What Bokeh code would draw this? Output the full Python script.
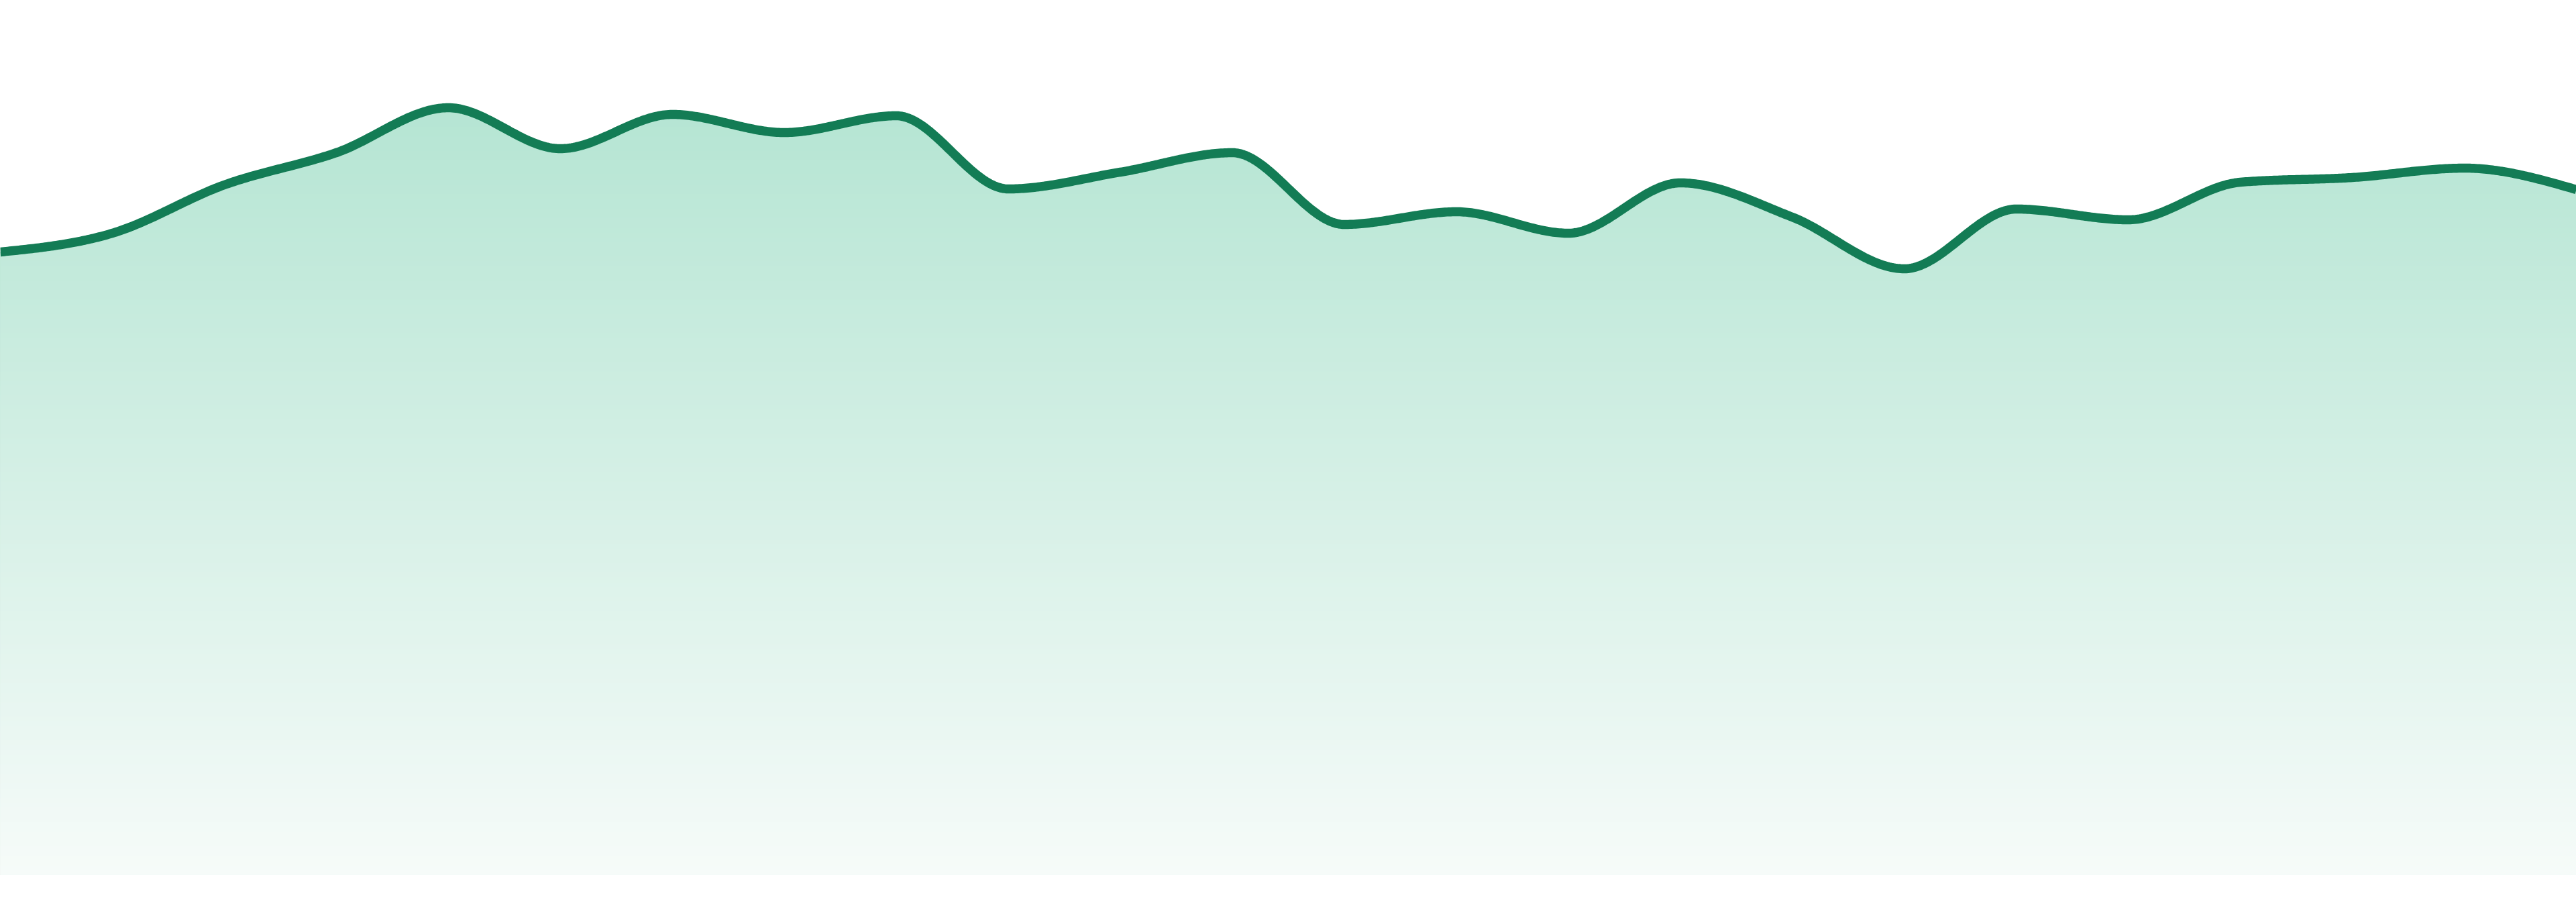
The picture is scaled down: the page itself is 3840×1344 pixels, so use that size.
import numpy as np
from bokeh.plotting import figure
from bokeh.models import Range1d
from bokeh.embed import file_html
from bokeh.resources import INLINE

# ---- data -------------------------------------------------------------
index = list(range(24))
values = [92.8, 95.6, 102.8, 107.6, 114.3, 108.2, 113.3, 110.6, 113.1, 102.2,
          104.7, 107.6, 96.9, 98.8, 95.6, 103.1, 98.0, 90.3, 99.2, 97.6,
          103.2, 103.9, 105.3, 102.1]

# ---- style ------------------------------------------------------------
LINE_COLOR = "#137c55"
FILL_TOP = (181, 229, 211)
FILL_BOTTOM = (246, 251, 249)
W, H = 3840, 1344
Y_TOP = 130.3
Y_BOTTOM = Y_TOP - H / 10.0
N_BANDS = 160


def monotone_curve(xs, ys, n=60):
    """Render path of a monotone-x cubic (as d3.curveMonotoneX)."""
    xs = np.asarray(xs, float)
    ys = np.asarray(ys, float)
    m = len(xs)
    h = np.diff(xs)
    s = np.diff(ys) / h
    t = np.zeros(m)
    for i in range(1, m - 1):
        h0, h1 = h[i - 1], h[i]
        s0, s1 = s[i - 1], s[i]
        p = (s0 * h1 + s1 * h0) / (h0 + h1)
        t[i] = (np.sign(s0) + np.sign(s1)) * min(abs(s0), abs(s1), 0.5 * abs(p))
    t[0] = (3 * s[0] - t[1]) / 2
    t[-1] = (3 * s[-1] - t[-2]) / 2
    px, py = [], []
    u = np.linspace(0, 1, n, endpoint=False)
    for i in range(m - 1):
        dx = h[i] / 3.0
        P0 = (xs[i], ys[i])
        P1 = (xs[i] + dx, ys[i] + dx * t[i])
        P2 = (xs[i + 1] - dx, ys[i + 1] - dx * t[i + 1])
        P3 = (xs[i + 1], ys[i + 1])
        b0 = (1 - u) ** 3
        b1 = 3 * (1 - u) ** 2 * u
        b2 = 3 * (1 - u) * u ** 2
        b3 = u ** 3
        px.extend(b0 * P0[0] + b1 * P1[0] + b2 * P2[0] + b3 * P3[0])
        py.extend(b0 * P0[1] + b1 * P1[1] + b2 * P2[1] + b3 * P3[1])
    px.append(xs[-1])
    py.append(ys[-1])
    return np.array(px), np.array(py)


def grad_color(v, vmax):
    f = min(max(v / vmax, 0.0), 1.0)
    c = [round(FILL_BOTTOM[k] + (FILL_TOP[k] - FILL_BOTTOM[k]) * f) for k in range(3)]
    return "#%02x%02x%02x" % tuple(c)


cx, cy = monotone_curve(index, values)

p = figure(width=W, height=H, output_backend="svg", toolbar_location=None,
           x_range=Range1d(index[0], index[-1]), y_range=Range1d(Y_BOTTOM, Y_TOP),
           x_axis_location=None, y_axis_location=None,
           min_border=0, outline_line_color=None,
           background_fill_color="white", border_fill_color="white")
p.grid.visible = False

# vertical gradient under the curve: stacked, progressively lower areas
vmax = max(values)
step = vmax / N_BANDS
base = np.zeros_like(cy)
for k in range(N_BANDS):
    upper = vmax - k * step
    col = grad_color(upper - step / 2, vmax)
    top = np.minimum(cy, upper + (5 if k == 0 else 0))
    p.varea(x=cx, y1=base, y2=top, fill_color=col)

p.line(cx, cy, line_color=LINE_COLOR, line_width=13.5, line_join="round")

open("out.html", "w").write(file_html(p, INLINE))
